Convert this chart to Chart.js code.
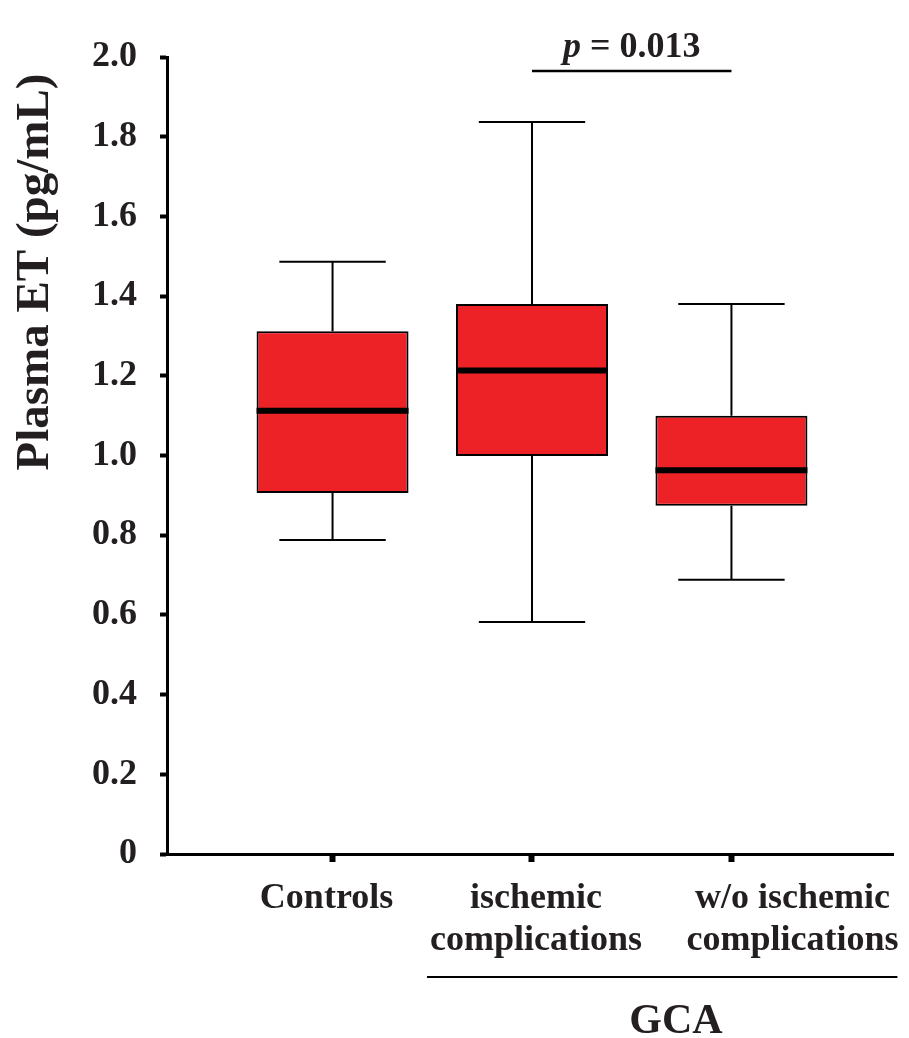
<!DOCTYPE html>
<html>
<head>
<meta charset="utf-8">
<script src="https://cdn.jsdelivr.net/npm/chart.js@4/dist/chart.umd.min.js"></script>
<style>
  html,body{margin:0;padding:0;background:#fff;}
  canvas{display:block;}
</style>
</head>
<body>
<canvas id="chart" width="909" height="1038"></canvas>
<script>
// ---- Data ----
const groups = [['Controls'], ['ischemic','complications'], ['w/o ischemic','complications']];
const whiskerLow  = [0.788, 0.582, 0.688];
const q1          = [0.906, 0.999, 0.874];
const median      = [1.112, 1.213, 0.963];
const q3          = [1.312, 1.380, 1.100];
const whiskerHigh = [1.486, 1.837, 1.380];
const yTicks = [0, 0.2, 0.4, 0.6, 0.8, 1.0, 1.2, 1.4, 1.6, 1.8, 2.0];
const yTitle = 'Plasma ET (pg/mL)';
const pText = ['p', ' = 0.013'];
const bracketLabel = 'GCA';

const FONT = '"Liberation Serif", "Times New Roman", serif';
const RED = '#ec2227';
const labelNudge = [-6, 4, 61];   // group label shift off tick (px)

// ---- Decorations: whiskers, medians, labels, brackets ----
const boxExtras = {
  id:'boxExtras',
  afterDatasetsDraw(chart){
    const ctx = chart.ctx, y = chart.scales.y;
    const meta = chart.getDatasetMeta(0);
    ctx.save();
    ctx.strokeStyle = '#000';
    ctx.lineCap = 'butt';
    meta.data.forEach((bar,i)=>{
      const {x,width} = bar.getProps(['x','width'], true);
      const cap = width*0.35;
      ctx.lineWidth = 2;
      ctx.beginPath();
      ctx.moveTo(x, y.getPixelForValue(q3[i])); ctx.lineTo(x, y.getPixelForValue(whiskerHigh[i]));
      ctx.moveTo(x, y.getPixelForValue(q1[i])); ctx.lineTo(x, y.getPixelForValue(whiskerLow[i]));
      ctx.moveTo(x-cap, y.getPixelForValue(whiskerHigh[i])); ctx.lineTo(x+cap, y.getPixelForValue(whiskerHigh[i]));
      ctx.moveTo(x-cap, y.getPixelForValue(whiskerLow[i])); ctx.lineTo(x+cap, y.getPixelForValue(whiskerLow[i]));
      ctx.stroke();
      ctx.lineWidth = 6;
      ctx.beginPath();
      ctx.moveTo(x-width/2, y.getPixelForValue(median[i])); ctx.lineTo(x+width/2, y.getPixelForValue(median[i]));
      ctx.stroke();
    });
    ctx.restore();
  },
  afterDraw(chart){
    const ctx = chart.ctx, xs = chart.scales.x;
    ctx.save();
    ctx.fillStyle = '#231f20';
    ctx.strokeStyle = '#000';

    // y title
    ctx.save();
    ctx.translate(48, 272);
    ctx.rotate(-Math.PI/2);
    ctx.font = 'bold 47px '+FONT;
    ctx.textAlign = 'center';
    ctx.textBaseline = 'alphabetic';
    ctx.fillText(yTitle, 0, 0);
    ctx.restore();

    // group labels
    ctx.font = 'bold 36px '+FONT;
    ctx.textAlign = 'center';
    ctx.textBaseline = 'alphabetic';
    groups.forEach((lines,i)=>{
      const cx = xs.getPixelForValue(i+1) + labelNudge[i];
      lines.forEach((t,k)=>ctx.fillText(t, cx, 908 + k*42));
    });

    // GCA bracket
    ctx.lineWidth = 2;
    ctx.beginPath();
    ctx.moveTo(xs.getPixelForValue(2)-105, 977);
    ctx.lineTo(xs.getPixelForValue(3)+166, 977);
    ctx.stroke();
    ctx.font = 'bold 42px '+FONT;
    ctx.fillText(bracketLabel, 676, 1033);

    // p-value bracket
    const x2 = xs.getPixelForValue(2), x3 = xs.getPixelForValue(3);
    ctx.lineWidth = 2.5;
    ctx.beginPath();
    ctx.moveTo(x2, 71); ctx.lineTo(x3, 71);
    ctx.stroke();
    ctx.textAlign = 'left';
    ctx.font = 'italic bold 36px '+FONT;
    const w1 = ctx.measureText(pText[0]).width;
    ctx.font = 'bold 36px '+FONT;
    const w2 = ctx.measureText(pText[1]).width;
    const start = (x2+x3)/2 - (w1+w2)/2;
    ctx.font = 'italic bold 36px '+FONT;
    ctx.fillText(pText[0], start, 57);
    ctx.font = 'bold 36px '+FONT;
    ctx.fillText(pText[1], start+w1, 57);
    ctx.restore();
  }
};

// ---- Chart ----
new Chart(document.getElementById('chart').getContext('2d'), {
  type:'bar',
  data:{
    datasets:[{
      data: groups.map((g,i)=>({x:i+1, y:[q1[i], q3[i]]})),
      backgroundColor: RED,
      borderColor:'#000',
      borderWidth:2,
      borderSkipped:false,
      barPercentage:0.762,
      categoryPercentage:1
    }]
  },
  options:{
    responsive:false,
    animation:false,
    layout:{ padding:{ top:57, right:16, left:0, bottom:0 } },
    plugins:{ legend:{display:false}, tooltip:{enabled:false} },
    scales:{
      x:{
        type:'linear',
        min:0.17, max:3.81,
        offset:false,
        afterBuildTicks: s => { s.ticks = groups.map((g,i)=>({value:i+1})); },
        afterFit: s => { s.height = 184; },
        ticks:{ display:false },
        grid:{ offset:false, drawOnChartArea:false, drawTicks:true, tickLength:8, tickWidth:6, tickColor:'#000' },
        border:{ color:'#000', width:3 }
      },
      y:{
        min:0, max:2,
        afterBuildTicks: s => { s.ticks = yTicks.map(v=>({value:v})); },
        afterFit: s => { s.width = 167; },
        ticks:{
          padding:23,
          color:'#231f20',
          font:{ family:FONT, size:36, weight:'bold' },
          callback: v => v===0 ? '0' : v.toFixed(1)
        },
        grid:{ drawOnChartArea:false, drawTicks:true, tickLength:7, tickWidth:4, tickColor:'#000' },
        border:{ color:'#000', width:3 }
      }
    }
  },
  plugins:[boxExtras]
});
</script>
</body>
</html>
